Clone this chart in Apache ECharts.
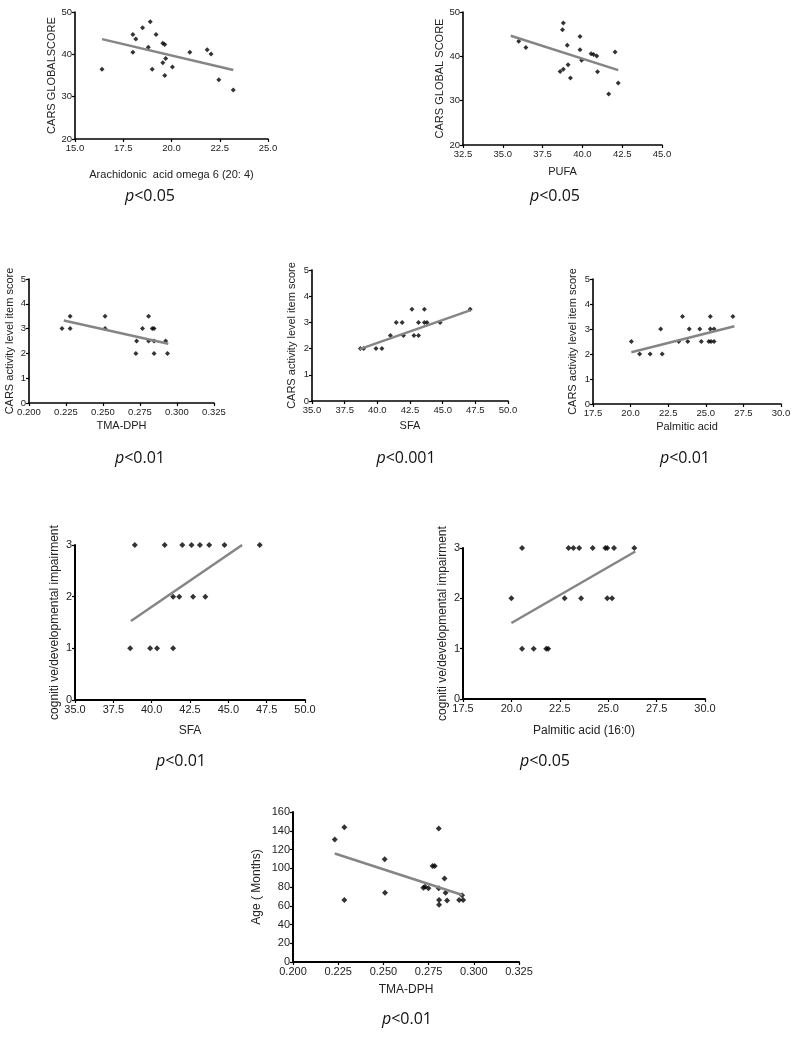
<!DOCTYPE html>
<html>
<head>
<meta charset="utf-8">
<script src="https://cdn.jsdelivr.net/npm/echarts@6/dist/echarts.min.js"></script>
<style>
html,body{margin:0;padding:0;background:#fff;}
#c{width:795px;height:1038px;}
</style>
</head>
<body>
<div id="c"></div>
<script>
// ---- Data ----
const p1X = [16.4,18.0,18.0,18.15,18.5,18.9,18.8,19.0,19.2,19.55,19.65,19.55,19.7,19.65,20.05,20.95,21.85,22.05,22.45,23.2];
const p1Y = [36.5,44.7,40.5,43.6,46.3,47.7,41.7,36.5,44.7,42.6,42.3,38.0,39.0,35.0,37.0,40.5,41.1,40.1,34.0,31.6];
const p1FitX = [16.4,23.2];
const p1FitY = [43.6,36.3];

const p2X = [36.0,36.45,38.75,38.8,39.05,39.1,38.6,38.8,39.25,39.85,39.85,39.95,40.55,40.7,40.9,40.95,41.65,42.05,42.25];
const p2Y = [43.4,42.0,46.0,47.5,42.5,38.1,36.6,37.1,35.1,44.5,41.5,39.1,40.6,40.4,40.1,36.5,31.5,41.0,34.0];
const p2FitX = [35.5,42.25];
const p2FitY = [44.65,36.9];

const p3X = [0.2223,0.2278,0.2278,0.2514,0.2514,0.2727,0.2767,0.2808,0.2808,0.2722,0.2833,0.2845,0.2845,0.2845,0.2923,0.2936];
const p3Y = [3.0,3.5,3.0,3.5,3.0,2.5,3.0,3.5,2.5,2.0,3.0,3.0,2.5,2.0,2.5,2.0];
const p3FitX = [0.2235,0.2941];
const p3FitY = [3.33,2.39];

const p4X = [38.7,38.95,39.9,40.35,41.45,41.9,41.0,42.0,42.65,42.8,43.15,43.15,43.6,43.6,43.8,44.8,47.1];
const p4Y = [2.0,2.0,2.0,2.0,3.0,3.0,2.5,2.5,3.5,2.5,2.5,3.0,3.5,3.0,3.0,3.0,3.5];
const p4FitX = [38.65,47.15];
const p4FitY = [1.98,3.47];

const p5X = [20.05,20.6,21.3,22.1,22.0,23.2,23.45,23.8,23.9,24.6,24.7,25.3,25.3,25.2,25.35,25.55,25.55,26.8];
const p5Y = [2.5,2.0,2.0,2.0,3.0,2.5,3.5,2.5,3.0,3.0,2.5,3.5,3.0,2.5,2.5,2.5,3.0,3.5];
const p5FitX = [20.05,26.9];
const p5FitY = [2.07,3.11];

const p6X = [38.9,40.85,42.0,42.6,43.15,43.75,44.75,47.05,41.4,41.8,42.7,43.5,38.6,39.9,40.35,41.4];
const p6Y = [3,3,3,3,3,3,3,3,2,2,2,2,1,1,1,1];
const p6FitX = [38.65,45.9];
const p6FitY = [1.53,3.0];

const p7X = [20.55,22.95,23.2,23.5,24.2,24.85,24.95,25.3,26.35,20.0,22.75,23.6,24.95,25.2,20.55,21.15,21.8,21.9];
const p7Y = [3,3,3,3,3,3,3,3,3,2,2,2,2,2,1,1,1,1];
const p7FitX = [20.0,26.4];
const p7FitY = [1.51,2.93];

const p8X = [0.2231,0.2284,0.2284,0.2507,0.2509,0.2721,0.2730,0.2749,0.2772,0.2784,0.2806,0.2806,0.2808,0.2808,0.2838,0.2844,0.2852,0.2919,0.2935,0.2941];
const p8Y = [130.6,143.7,66.2,109.7,74.0,79.3,80.4,78.6,102.3,102.3,142.3,78.6,66.2,61.2,89.2,74.0,65.5,66.2,71.2,66.2];
const p8FitX = [0.2231,0.2937];
const p8FitY = [115.8,71.5];

const xNames = ['Arachidonic  acid omega 6 (20: 4)','PUFA','TMA-DPH','SFA','Palmitic acid','SFA','Palmitic acid (16:0)','TMA-DPH'];
const yNames = ['CARS GLOBALSCORE','CARS GLOBAL SCORE','CARS activity level item score','CARS activity level item score','CARS activity level item score','cogniti ve/developmental impairment','cogniti ve/developmental impairment','Age ( Months)'];
const pLabels = ['<0.05','<0.05','<0.01','<0.001','<0.01','<0.01','<0.05','<0.01'];

// ---- Layout ----
const layout = [
  {grid:[75,12,193,127], x:[15,25,2.5,1], y:[20,50,10], xGap:30, yGap:17, fs:9.5, nfs:11, sym:5, p:[150,188]},
  {grid:[463,12,199,133], x:[32.5,45,2.5,1], y:[20,50,10], xGap:21, yGap:18, fs:9.5, nfs:11, sym:5, p:[555,188]},
  {grid:[29,279,185,124], x:[0.2,0.325,0.025,3], y:[0,5,1], xGap:17, yGap:14, fs:9.5, nfs:11, sym:5, p:[140,450]},
  {grid:[312,270,196,131], x:[35,50,2.5,1], y:[0,5,1], xGap:19, yGap:15, fs:9.5, nfs:11, sym:5, p:[406,450]},
  {grid:[593,279,188,125], x:[17.5,30,2.5,1], y:[0,5,1], xGap:17, yGap:15, fs:9.5, nfs:11, sym:5, p:[685,450]},
  {grid:[75,545,230,155], x:[35,50,2.5,1], y:[0,3,1], xGap:25, yGap:14, fs:11, nfs:12, sym:6, p:[181,753]},
  {grid:[463,548,242,151], x:[17.5,30,2.5,1], y:[0,3,1], xGap:26, yGap:14, fs:11, nfs:12, sym:6, p:[545,753]},
  {grid:[293,812,226,150], x:[0.2,0.325,0.025,3], y:[0,160,20], xGap:22, yGap:30, fs:11, nfs:12, sym:6, p:[407,1011]}
];
const xs = [p1X,p2X,p3X,p4X,p5X,p6X,p7X,p8X];
const ys = [p1Y,p2Y,p3Y,p4Y,p5Y,p6Y,p7Y,p8Y];
const fxs = [p1FitX,p2FitX,p3FitX,p4FitX,p5FitX,p6FitX,p7FitX,p8FitX];
const fys = [p1FitY,p2FitY,p3FitY,p4FitY,p5FitY,p6FitY,p7FitY,p8FitY];

const FONT = 'Liberation Sans, Arial, sans-serif';
const PFONT = 'Open Sans, sans-serif';
const grids=[], xAxes=[], yAxes=[], series=[], titles=[];
layout.forEach((L,i)=>{
  grids.push({left:L.grid[0], top:L.grid[1], width:L.grid[2], height:L.grid[3], containLabel:false});
  const axisCommon = {
    gridIndex:i, type:'value', splitLine:{show:false},
    axisLine:{show:true, onZero:false, lineStyle:{color:'#000', width: i>=5?2:1.6}},
    axisTick:{show:true, length:3, lineStyle:{color:'#000', width:1.2}},
    nameLocation:'middle',
    nameTextStyle:{color:'#222', fontSize:L.nfs, fontFamily:FONT},
    axisLabel:{color:'#222', fontSize:L.fs, fontFamily:FONT, margin:4, showMaxLabel:true, showMinLabel:true}
  };
  xAxes.push(Object.assign({}, axisCommon, {
    min:L.x[0], max:L.x[1], interval:L.x[2], name:xNames[i], nameGap:L.xGap,
    axisLabel:Object.assign({}, axisCommon.axisLabel, {formatter:(v)=>Number(v).toFixed(L.x[3])})
  }));
  yAxes.push(Object.assign({}, axisCommon, {
    min:L.y[0], max:L.y[1], interval:L.y[2], name:yNames[i], nameGap:L.yGap, nameRotate:90,
    axisLabel:Object.assign({}, axisCommon.axisLabel, {margin:3})
  }));
  series.push({
    type:'scatter', xAxisIndex:i, yAxisIndex:i, symbol:'diamond', symbolSize:L.sym,
    itemStyle:{color:'#000'}, data: xs[i].map((v,k)=>[v, ys[i][k]]), silent:true
  });
  series.push({
    type:'line', xAxisIndex:i, yAxisIndex:i, symbol:'none',
    lineStyle:{color:'#858585', width:2.5}, data: fxs[i].map((v,k)=>[v, fys[i][k]]), silent:true
  });
  titles.push({
    left:L.p[0], top:L.p[1], textAlign:'center', padding:0,
    text:'{i|p}{n|'+pLabels[i]+'}',
    textStyle:{fontWeight:'normal', rich:{
      i:{fontStyle:'italic', fontWeight:'normal', fontSize:16, fontFamily:PFONT, color:'#111'},
      n:{fontWeight:'normal', fontSize:16, fontFamily:PFONT, color:'#111'}
    }}
  });
});

const chart = echarts.init(document.getElementById('c'), null, {renderer:'canvas'});
chart.setOption({
  animation:false,
  backgroundColor:'#fff',
  title:titles,
  grid:grids,
  xAxis:xAxes,
  yAxis:yAxes,
  series:series
});
</script>
</body>
</html>
